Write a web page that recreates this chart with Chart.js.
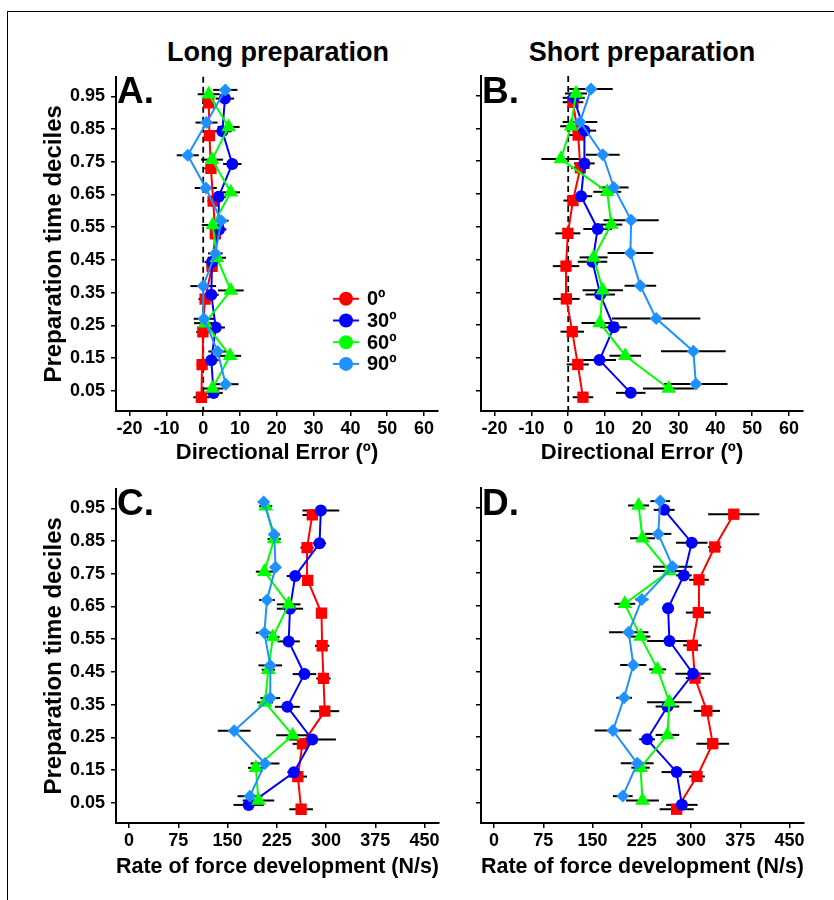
<!DOCTYPE html>
<html><head><meta charset="utf-8">
<script src="https://cdn.jsdelivr.net/npm/chart.js@4.4.1/dist/chart.umd.min.js"></script>
<style>
html,body{margin:0;padding:0;background:#fff;}
body{width:834px;height:900px;position:relative;overflow:hidden;font-family:"Liberation Sans",Arial,sans-serif;}
.frame{position:absolute;left:7px;top:11px;width:840px;height:900px;border-left:1.5px solid #000;border-top:1.5px solid #000;}
.cv{position:absolute;}
.hd{position:absolute;font-weight:bold;font-size:27px;color:#000;transform:translateX(-50%);white-space:nowrap;line-height:1;}
.lt{position:absolute;font-weight:bold;font-size:37px;color:#000;line-height:1;}
</style></head><body>
<div class="frame"></div>
<div class="hd" style="left:278px;top:39px">Long preparation</div>
<div class="hd" style="left:642px;top:39px">Short preparation</div>
<canvas id="cA" class="cv" width="460" height="420" style="left:0px;top:60px"></canvas>
<canvas id="cB" class="cv" width="374" height="420" style="left:460px;top:60px"></canvas>
<canvas id="cC" class="cv" width="460" height="428" style="left:0px;top:472px"></canvas>
<canvas id="cD" class="cv" width="374" height="428" style="left:460px;top:472px"></canvas>
<div class="lt" style="left:117px;top:72px">A.</div>
<div class="lt" style="left:482px;top:72px">B.</div>
<div class="lt" style="left:117px;top:484px">C.</div>
<div class="lt" style="left:482px;top:484px">D.</div>
<script>
// ---------- DATA ----------
const deciles = [0.05, 0.15, 0.25, 0.35, 0.45, 0.55, 0.65, 0.75, 0.85, 0.95];
const seriesNames = ['0º', '30º', '60º', '90º'];
const deTicks = [-20, -10, 0, 10, 20, 30, 40, 50, 60];
const rfdTicks = [0, 75, 150, 225, 300, 375, 450];

// Panel A: Long preparation, directional error (deg)
const longDE_0  = [-0.5, -0.3, -0.1, 0.5, 2.4, 3.3, 2.7, 2.1, 1.7, 1.5];
const longDE_30 = [2.8, 2.2, 3.4, 2.2, 2.4, 4.3, 4.2, 7.9, 5.2, 5.9];
const longDE_60 = [2.5, 7.3, 0.5, 7.5, 3.7, 2.6, 7.5, 2.4, 6.9, 1.5];
const longDE_90 = [6.1, 3.9, 0.2, 0.0, 3.3, 4.9, 0.7, -4.2, 0.9, 6.0];
const longDE_err_0  = [2.2, 1.5, 1.8, 1.8, 1.5, 1.5, 1.5, 1.8, 1.5, 1.8];
const longDE_err_30 = [2.5, 2.0, 2.5, 2.0, 2.0, 2.0, 2.0, 2.5, 2.5, 2.5];
const longDE_err_60 = [3.0, 3.0, 3.0, 3.5, 2.5, 3.0, 2.5, 3.0, 3.0, 3.0];
const longDE_err_90 = [3.5, 2.5, 2.8, 3.5, 2.0, 2.0, 3.0, 3.0, 3.0, 3.3];

// Panel B: Short preparation, directional error (deg)
const shortDE_0  = [4.0, 2.6, 1.1, -0.5, -0.6, -0.1, 1.3, 3.3, 2.7, 1.3];
const shortDE_30 = [17.0, 8.5, 12.4, 8.7, 6.6, 8.0, 3.5, 4.4, 4.4, 1.5];
const shortDE_60 = [27.3, 15.5, 8.6, 9.4, 6.9, 11.7, 10.6, -2.0, 0.8, 2.1];
const shortDE_90 = [34.7, 34.0, 23.9, 19.6, 16.9, 17.1, 12.4, 9.4, 3.2, 6.2];
const shortDE_err_0  = [2.8, 3.0, 3.2, 3.6, 3.6, 3.4, 2.6, 2.5, 2.5, 2.8];
const shortDE_err_30 = [4.0, 4.5, 3.6, 4.0, 4.0, 3.9, 3.0, 2.8, 3.2, 3.0];
const shortDE_err_60 = [7.0, 4.3, 5.0, 5.5, 3.8, 3.0, 3.8, 5.3, 3.0, 3.0];
const shortDE_err_90 = [8.6, 8.8, 12.0, 4.3, 6.2, 7.5, 4.0, 4.6, 4.7, 5.9];

// Panel C: Long preparation, rate of force development (N/s)
const longRFD_0  = [262, 257, 264, 298, 296, 294, 293, 272, 271, 279];
const longRFD_30 = [182, 251, 279, 241, 267, 243, 245, 253, 290, 292];
const longRFD_60 = [197, 193, 249, 207, 212, 219, 243, 206, 221, 208];
const longRFD_90 = [184, 207, 160, 215, 215, 206, 210, 223, 221, 205];
const longRFD_err_0  = [18, 14, 15, 22, 11, 11, 8, 8, 10, 15];
const longRFD_err_30 = [23, 10, 36, 19, 18, 17, 20, 13, 10, 28];
const longRFD_err_60 = [24, 12, 25, 12, 10, 10, 18, 13, 10, 10];
const longRFD_err_90 = [19, 22, 25, 15, 18, 13, 12, 8, 8, 8];

// Panel D: Short preparation, rate of force development (N/s)
const shortRFD_0  = [278, 309, 333, 324, 306, 302, 311, 312, 336, 365];
const shortRFD_30 = [286, 278, 233, 264, 303, 267, 265, 289, 301, 259];
const shortRFD_60 = [226, 223, 264, 267, 249, 223, 199, 267, 226, 220];
const shortRFD_90 = [196, 218, 181, 198, 212, 205, 225, 272, 250, 253];
const shortRFD_err_0  = [26, 12, 25, 20, 14, 14, 19, 15, 10, 39];
const shortRFD_err_30 = [24, 23, 12, 18, 27, 34, 9, 12, 24, 16];
const shortRFD_err_60 = [25, 14, 18, 34, 13, 15, 16, 25, 19, 16];
const shortRFD_err_90 = [15, 25, 28, 12, 20, 30, 10, 30, 20, 15];

// ---------- STYLE ----------
const FONT = "'Liberation Sans', Arial, sans-serif";
Chart.defaults.font.family = FONT;
Chart.defaults.color = '#000';
const styles = {
  '0º':  {color: '#FF0000', shape: 'rect',     r: 8,   dodge: -0.02},
  '30º': {color: '#0000FF', shape: 'circle',   r: 6,   dodge: -0.00667},
  '60º': {color: '#00FF00', shape: 'triangle', r: 8.5, dodge: 0.00667},
  '90º': {color: '#1E90FF', shape: 'rectRot',  r: 6.5, dodge: 0.02}
};

const errPlugin = {
  id: 'errbars',
  beforeDatasetsDraw(chart) {
    const {ctx, scales: {x, y}} = chart;
    ctx.save();
    ctx.strokeStyle = '#000';
    ctx.lineWidth = 2;
    chart.data.datasets.forEach(ds => {
      ds.data.forEach((p, i) => {
        const e = ds.errors[i];
        const py = y.getPixelForValue(p.y);
        ctx.beginPath();
        ctx.moveTo(x.getPixelForValue(p.x - e), py);
        ctx.lineTo(x.getPixelForValue(p.x + e), py);
        ctx.stroke();
      });
    });
    ctx.restore();
  }
};
const zeroPlugin = {
  id: 'zeroline',
  beforeDatasetsDraw(chart, args, opts) {
    if (!opts.show) return;
    const {ctx, chartArea, scales: {x}} = chart;
    const px = x.getPixelForValue(0);
    ctx.save();
    ctx.strokeStyle = '#000';
    ctx.lineWidth = 1.8;
    ctx.setLineDash([6, 4]);
    ctx.beginPath();
    ctx.moveTo(px, chartArea.top);
    ctx.lineTo(px, chartArea.bottom);
    ctx.stroke();
    ctx.restore();
  }
};
const legendPlugin = {
  id: 'lgd',
  afterDraw(chart, args, opts) {
    if (!opts.show) return;
    const {ctx, chartArea} = chart;
    const cx = chartArea.left + 230;
    const y0 = chartArea.top + 222;
    const dy = 21.7;
    ctx.save();
    seriesNames.forEach((n, i) => {
      const st = styles[n];
      const yy = y0 + i * dy;
      ctx.strokeStyle = st.color; ctx.lineWidth = 2;
      ctx.beginPath(); ctx.moveTo(cx - 13, yy); ctx.lineTo(cx + 13, yy); ctx.stroke();
      ctx.fillStyle = st.color;
      ctx.beginPath(); ctx.arc(cx, yy, 7, 0, Math.PI * 2); ctx.fill();
      ctx.fillStyle = '#000';
      ctx.font = 'bold 20px ' + FONT;
      ctx.textBaseline = 'middle';
      ctx.textAlign = 'left';
      ctx.fillText(n, cx + 21, yy + 1);
    });
    ctx.restore();
  }
};

function makePanel(id, vals, errs, cfg) {
  const datasets = [];
  // later series drawn on top -> list in reverse
  for (let k = seriesNames.length - 1; k >= 0; k--) {
    const n = seriesNames[k];
    const st = styles[n];
    datasets.push({
      label: n,
      data: vals[k].map((v, i) => ({x: v, y: deciles[i] + st.dodge})),
      errors: errs[k],
      showLine: true,
      borderColor: st.color,
      backgroundColor: st.color,
      borderWidth: 2,
      pointStyle: st.shape,
      pointRadius: st.r,
      pointBorderWidth: 0,
      pointBackgroundColor: st.color
    });
  }
  return new Chart(document.getElementById(id), {
    type: 'scatter',
    data: {datasets},
    options: {
      responsive: false,
      animation: false,
      devicePixelRatio: 1,
      events: [],
      layout: {padding: {top: cfg.padTop, right: cfg.padRight, left: 0, bottom: 0}},
      plugins: {
        legend: {display: false},
        tooltip: {enabled: false},
        zeroline: {show: cfg.zero},
        lgd: {show: cfg.legend}
      },
      scales: {
        x: {
          type: 'linear', min: cfg.xmin, max: cfg.xmax,
          afterBuildTicks: s => { s.ticks = cfg.ticks.map(v => ({value: v})); },
          afterFit: s => { s.height = cfg.xH; },
          ticks: {font: {size: 18, weight: 'bold'}, color: '#000', padding: 2, maxRotation: 0, autoSkip: false},
          grid: {drawOnChartArea: false, drawTicks: true, tickLength: 5, color: '#000', lineWidth: 1.5},
          border: {display: true, color: '#000', width: 2},
          title: {display: true, text: cfg.xTitle, color: '#000', font: {size: 22, weight: 'bold'}, padding: {top: 0, bottom: cfg.xTitlePad}}
        },
        y: {
          type: 'linear', min: -0.012, max: 1.01,
          afterBuildTicks: s => { s.ticks = deciles.map(v => ({value: v})); },
          afterFit: s => { s.width = cfg.yW; },
          ticks: {display: cfg.yLabels, font: {size: 18, weight: 'bold'}, color: '#000', padding: 6,
                  callback: v => v.toFixed(2)},
          grid: {drawOnChartArea: false, drawTicks: true, tickLength: 5, color: '#000', lineWidth: 1.5},
          border: {display: true, color: '#000', width: 2},
          title: {display: cfg.yLabels, text: 'Preparation time deciles', color: '#000', font: {size: 24, weight: 'bold'}, padding: {top: 40, bottom: 0}}
        }
      }
    },
    plugins: [zeroPlugin, errPlugin, legendPlugin]
  });
}

makePanel('cA',
  [longDE_0, longDE_30, longDE_60, longDE_90],
  [longDE_err_0, longDE_err_30, longDE_err_60, longDE_err_90],
  {padTop: 16, padRight: 22, yW: 116, xH: 69, xmin: -23.7, xmax: 63.8, ticks: deTicks,
   xTitle: 'Directional Error (º)', xTitlePad: 14, zero: true, legend: true, yLabels: true});
makePanel('cB',
  [shortDE_0, shortDE_30, shortDE_60, shortDE_90],
  [shortDE_err_0, shortDE_err_30, shortDE_err_60, shortDE_err_90],
  {padTop: 16, padRight: 31, yW: 21, xH: 69, xmin: -23.7, xmax: 63.8, ticks: deTicks,
   xTitle: 'Directional Error (º)', xTitlePad: 14, zero: true, legend: false, yLabels: false});
makePanel('cC',
  [longRFD_0, longRFD_30, longRFD_60, longRFD_90],
  [longRFD_err_0, longRFD_err_30, longRFD_err_60, longRFD_err_90],
  {padTop: 16, padRight: 21, yW: 116, xH: 77, xmin: -20, xmax: 472, ticks: rfdTicks,
   xTitle: 'Rate of force development (N/s)', xTitlePad: 20, zero: false, legend: false, yLabels: true});
makePanel('cD',
  [shortRFD_0, shortRFD_30, shortRFD_60, shortRFD_90],
  [shortRFD_err_0, shortRFD_err_30, shortRFD_err_60, shortRFD_err_90],
  {padTop: 16, padRight: 30, yW: 21, xH: 77, xmin: -20, xmax: 472, ticks: rfdTicks,
   xTitle: 'Rate of force development (N/s)', xTitlePad: 20, zero: false, legend: false, yLabels: false});
</script>
</body></html>
